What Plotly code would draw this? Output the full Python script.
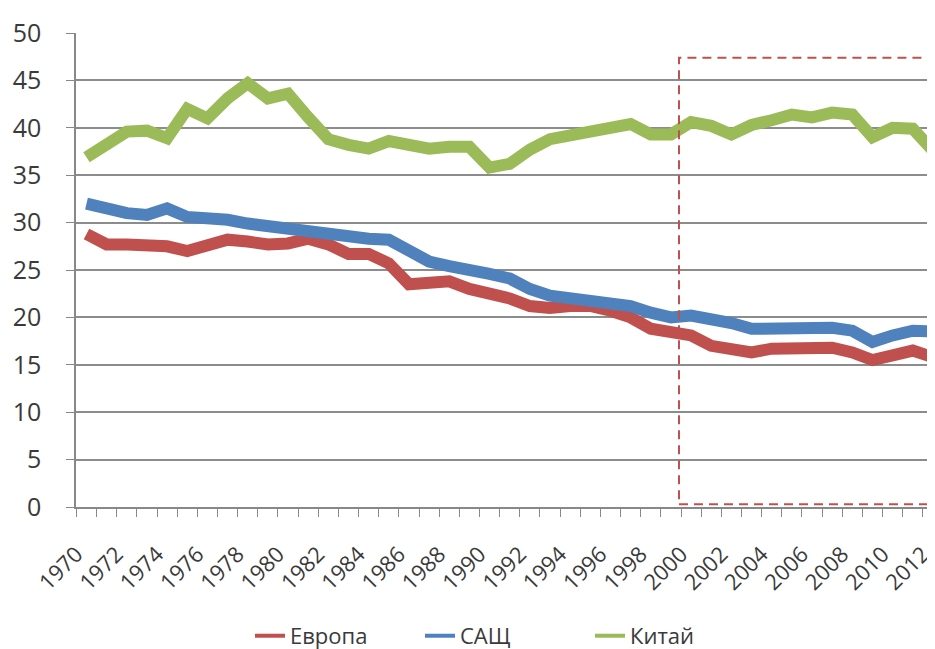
import plotly.graph_objects as go

years = list(range(1970, 2013))
europe = [28.8, 27.7, 27.7, 27.7, 27.5, 27.0, 27.7, 28.2, 28.0, 27.7,
          27.8, 28.3, 27.7, 26.7, 26.7, 25.7, 23.5, 23.5, 23.8, 23.0,
          22.6, 22.0, 21.2, 21.0, 21.2, 21.2, 20.7, 20.0, 18.8, 18.4,
          18.1, 17.0, 16.5, 16.3, 16.7, 16.8, 16.8, 16.8, 16.3, 15.5,
          16.0, 16.5, 15.8]
usa = [32.0, 31.4, 31.0, 30.8, 31.5, 30.6, 30.6, 30.3, 29.9, 29.6,
       29.3, 29.1, 28.9, 28.3, 28.3, 28.2, 27.0, 25.9, 25.4, 25.1,
       24.6, 24.1, 23.0, 22.3, 22.0, 21.8, 21.4, 21.2, 20.5, 20.0,
       20.2, 19.9, 19.4, 18.8, 18.8, 18.9, 19.1, 18.9, 18.6, 17.4,
       18.1, 18.6, 18.5]
china = [36.9, 38.4, 39.6, 39.7, 38.9, 42.0, 41.0, 43.1, 44.7, 43.1,
         43.6, 41.1, 38.8, 38.2, 37.8, 38.6, 38.2, 37.8, 38.0, 38.0,
         35.8, 36.2, 37.7, 38.8, 39.2, 39.6, 39.9, 40.4, 39.3, 39.3,
         40.6, 40.2, 39.3, 40.3, 40.8, 41.4, 41.1, 41.6, 41.4, 39.0,
         40.0, 39.9, 37.6]
names = ["Европа", "САЩ", "Китай"]
colors = ["#C0504D", "#4F81BD", "#9BBB59"]
tick_years = list(range(1970, 2013, 2))
y_ticks = list(range(0, 51, 5))
box_x = [1999.4, 2012.2]
box_y = [0.3, 47.4]

fig = go.Figure()
for name, vals, col in zip(names, [europe, usa, china], colors):
    fig.add_trace(go.Scatter(x=years, y=vals, name=name, mode="lines",
                             line=dict(color=col, width=12),
                             legendgroup=name, showlegend=False))
# legend entries with thin line samples
for name, col in zip(names, colors):
    fig.add_trace(go.Scatter(x=[None], y=[None], name=name, mode="lines",
                             line=dict(color=col, width=4),
                             legendgroup=name, showlegend=True))

fig.add_shape(type="rect", xref="x", yref="y",
              x0=box_x[0], x1=box_x[1], y0=box_y[0], y1=box_y[1],
              line=dict(color="#C0504D", width=2, dash="9px,6px"))

font_family = "Open Sans"
fig.update_layout(
    width=935, height=649,
    margin=dict(l=68, r=0, t=25, b=146),
    plot_bgcolor="white", paper_bgcolor="white",
    font=dict(family=font_family, color="#3a3a3a"),
    showlegend=True,
    legend=dict(orientation="h", x=0.2007, xanchor="left", y=-0.272, yanchor="middle",
                font=dict(size=22, color="#3a3a3a"),
                entrywidth=125, entrywidthmode="pixels",
                traceorder="normal", tracegroupgap=0),
)
# Tick labels sit at the category boundary ticks (as in the original chart)
fig.update_xaxes(
    range=[1969.48, 2012.5], automargin=False,
    tickmode="array", tickvals=[t - 0.5 for t in tick_years],
    ticktext=[str(t) for t in tick_years],
    tickangle=-45, tickfont=dict(size=22), ticklabeloverflow="allow",
    ticks="outside", ticklen=8, tickcolor="#888888", tickwidth=1,
    ticklabelstandoff=16,
    showgrid=False, zeroline=False,
    showline=True, linecolor="#888888", linewidth=1.5,
    minor=dict(tickmode="array", tickvals=[t + 0.5 for t in tick_years],
               ticks="outside", ticklen=8, tickcolor="#888888", tickwidth=1),
)
fig.update_yaxes(
    range=[0, 50], tickmode="array", tickvals=y_ticks, automargin=False,
    tickfont=dict(size=25), showgrid=True, gridcolor="#8c8c8c", gridwidth=1.5,
    zeroline=False, showline=True, linecolor="#888888", linewidth=1.5,
    ticks="outside", ticklen=8, tickcolor="#888888", ticklabelstandoff=20,
)

fig.write_html("out.html")
